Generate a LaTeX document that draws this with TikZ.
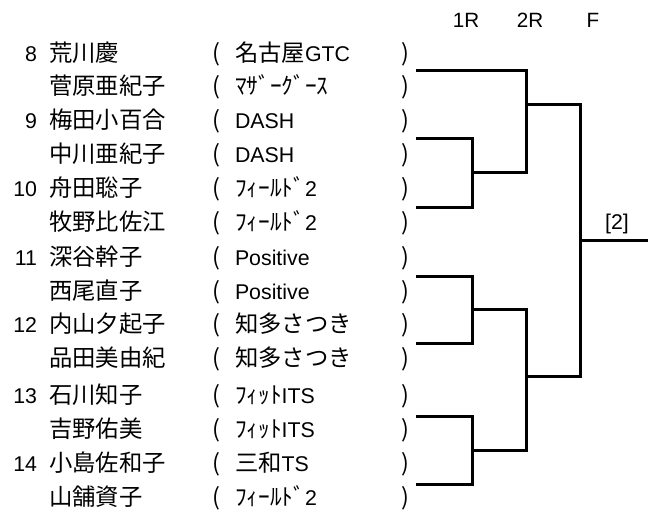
\documentclass[tikz,border=0pt]{standalone}
\usepackage{fontspec}
\setmainfont{Noto Sans CJK JP}
\newfontfamily\lat{Liberation Sans}
\newcommand\la[1]{{\fontsize{16}{19}\selectfont\lat #1}}
\begin{document}
\begin{tikzpicture}[x=0.75pt,y=-0.75pt,
  every node/.style={inner sep=0pt, outer sep=0pt, text height=0.88em, text depth=0.12em, font=\fontsize{17.5}{21}\selectfont},
  num/.style={anchor=east, font=\fontsize{16}{19}\selectfont\lat},
  pname/.style={anchor=west},
  org/.style={anchor=west},
  par/.style={anchor=center},
  hdr/.style={anchor=center, font=\fontsize{15.5}{18}\selectfont\lat},
  wire/.style={line width=2.25pt, line join=miter, line cap=rect}]
\useasboundingbox (0,0) rectangle (648,513);
\newcommand\trow[5]{%
  \node[num] (n#5) at (37,#1) {#2};
  \node[pname] (nm#5) at (49,#1) {#3};
  \node[par] (lp#5) at (216,#1) {(};
  \node[org] (o#5) at (235,#1) {#4};
  \node[par] (rp#5) at (405,#1) {)};}
% headers
\node[hdr] (h1) at (466,22) {1R};
\node[hdr] (h2) at (530,22) {2R};
\node[hdr] (h3) at (593,22) {F};
% rows
\trow{56}{8}{荒川慶}{名古屋\la{GTC}}{1}
\trow{89}{}{菅原亜紀子}{ﾏｻﾞｰｸﾞｰｽ}{2}
\trow{123}{9}{梅田小百合}{\la{DASH}}{3}
\trow{157}{}{中川亜紀子}{\la{DASH}}{4}
\trow{191}{10}{舟田聡子}{ﾌｨｰﾙﾄﾞ\la{2}}{5}
\trow{225}{}{牧野比佐江}{ﾌｨｰﾙﾄﾞ\la{2}}{6}
\trow{260}{11}{深谷幹子}{\la{Positive}}{7}
\trow{294}{}{西尾直子}{\la{Positive}}{8}
\trow{327}{12}{内山夕起子}{知多さつき}{9}
\trow{361}{}{品田美由紀}{知多さつき}{10}
\trow{398}{13}{石川知子}{ﾌｨｯﾄ\la{ITS}}{11}
\trow{432}{}{吉野佑美}{ﾌｨｯﾄ\la{ITS}}{12}
\trow{466}{14}{小島佐和子}{三和\la{TS}}{13}
\trow{500}{}{山舗資子}{ﾌｨｰﾙﾄﾞ\la{2}}{14}
% bracket coordinates
\coordinate (t8) at (417,71);
\coordinate (t9) at (417,139);
\coordinate (t10) at (417,207);
\coordinate (t11) at (417,276);
\coordinate (t12) at (417,343);
\coordinate (t13) at (417,416);
\coordinate (t14) at (417,484);
\coordinate (a9) at (472,139);
\coordinate (a10) at (472,207);
\coordinate (a11) at (472,276);
\coordinate (a12) at (472,343);
\coordinate (a13) at (472,416);
\coordinate (a14) at (472,484);
\coordinate (m1) at (472,173);
\coordinate (m2) at (472,309);
\coordinate (m3) at (472,450);
\coordinate (b8) at (526,71);
\coordinate (b1) at (526,173);
\coordinate (b2) at (526,309);
\coordinate (b3) at (526,450);
\coordinate (s1) at (526,105);
\coordinate (s2) at (526,376);
\coordinate (f1) at (580,105);
\coordinate (f2) at (580,376);
\coordinate (fm) at (580,240);
\coordinate (win) at (648,240);
% 1R
\draw[wire] (t9) -- (a9) -- (a10) -- (t10);
\draw[wire] (m1) -- (b1);
\draw[wire] (t11) -- (a11) -- (a12) -- (t12);
\draw[wire] (m2) -- (b2);
\draw[wire] (t13) -- (a13) -- (a14) -- (t14);
\draw[wire] (m3) -- (b3);
% 2R
\draw[wire] (t8) -- (b8) -- (b1);
\draw[wire] (s1) -- (f1);
\draw[wire] (b2) -- (b3);
\draw[wire] (s2) -- (f2);
% F
\draw[wire] (f1) -- (f2);
\draw[wire] (fm) -- (win);
\node[hdr, font=\fontsize{16}{19}\selectfont\lat] (res) at (617,224) {[2]};
\end{tikzpicture}
\end{document}
